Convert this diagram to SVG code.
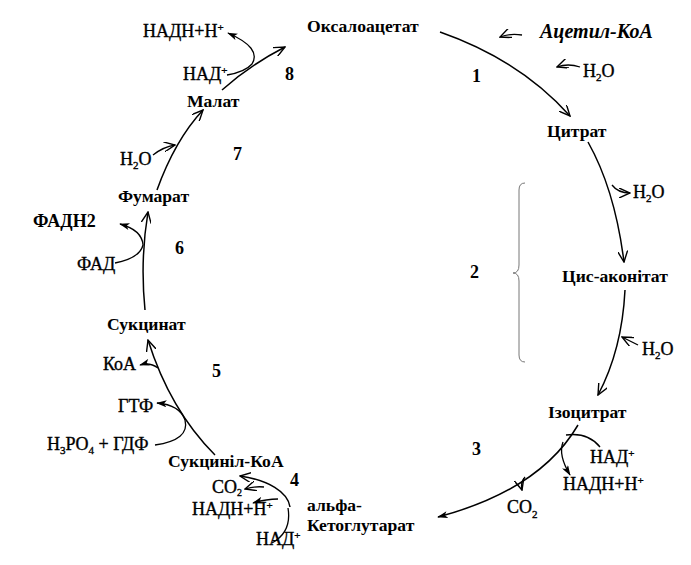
<svg xmlns="http://www.w3.org/2000/svg" width="691" height="565" viewBox="0 0 691 565">
<style>
.b{font-family:"Liberation Serif",serif;font-weight:bold;font-size:17.6px;fill:#000}
.r{font-family:"Liberation Serif",serif;font-size:18px;fill:#000;stroke:#000;stroke-width:0.35}
.n{font-family:"Liberation Serif",serif;font-weight:bold;font-size:18px;fill:#000}
.ln{fill:none;stroke:#000;stroke-width:1.5}
.sm{fill:none;stroke:#000;stroke-width:1.3}
</style>
<defs>
<marker id="a" viewBox="0 0 12 10" refX="11" refY="5" markerWidth="12" markerHeight="10" markerUnits="userSpaceOnUse" orient="auto">
<path d="M0,0 L11,5 L0,10" fill="none" stroke="#000" stroke-width="1.4"/>
</marker>
<marker id="f" viewBox="0 0 12 8" refX="11" refY="4" markerWidth="11" markerHeight="7" markerUnits="userSpaceOnUse" orient="auto">
<path d="M0,0 L12,4 L0,8 L3,4 Z" fill="#000"/>
</marker>
</defs>
<rect width="691" height="565" fill="#fff"/>
<g id="connectors">
<path class="ln" d="M440,32 Q520,60 570,116" marker-end="url(#a)"/>
<path class="ln" d="M588,142 Q615,190 624,262" marker-end="url(#a)"/>
<path class="ln" d="M625,290 Q622,350 598,395" marker-end="url(#a)"/>
<path class="ln" d="M578,425 Q540,490 438,517" marker-end="url(#f)"/>
<path class="ln" d="M290,507 C288,492 268,480 240,476" marker-end="url(#a)"/>
<path class="ln" d="M215,455 Q170,410 148,340" marker-end="url(#a)"/>
<path class="ln" d="M145,310 Q140,260 148,212" marker-end="url(#a)"/>
<path class="ln" d="M157,190 Q175,140 203,110" marker-end="url(#a)"/>
<path class="ln" d="M222,90 Q250,65 285,47" marker-end="url(#a)"/>
<path class="sm" d="M522,35 Q510,33 500,37" marker-end="url(#a)"/>
<path class="sm" d="M580,67 Q568,63 557,67" marker-end="url(#a)"/>
<path class="sm" d="M612,185 Q618,193 630,193" marker-end="url(#a)"/>
<path class="sm" d="M638,345 Q628,340 622,337" marker-end="url(#a)"/>
<path class="sm" d="M600,447 Q588,432 566,435"/>
<path class="sm" d="M563,442 Q558,455 570,475" marker-end="url(#f)"/>
<path class="sm" d="M525,477 Q520,483 522,490" marker-end="url(#a)"/>
<path class="sm" d="M264,487 Q255,486 245,489" marker-end="url(#a)"/>
<path class="sm" d="M278,499 Q266,499 253,503" marker-end="url(#f)"/>
<path class="sm" d="M272,543 Q292,532 288,508"/>
<path class="sm" d="M158,368 Q150,362 140,365" marker-end="url(#f)"/>
<path class="sm" d="M155,445 Q190,440 185,420 Q180,405 157,403" marker-end="url(#f)"/>
<path class="sm" d="M115,263 Q140,258 143,245 Q142,230 120,224" marker-end="url(#f)"/>
<path class="sm" d="M153,155 Q163,147 175,145" marker-end="url(#a)"/>
<path class="sm" d="M227,75 Q245,72 252,64 Q262,48 228,33" marker-end="url(#f)"/>
<path d="M525,183 Q519,183 519,190 L519,265 Q519,273 513,273 Q519,273 519,281 L519,355 Q519,362 525,362" fill="none" stroke="#777" stroke-width="1"/>
</g>
<g id="oxaloacetate"><text class="b" x="307" y="32">Оксалоацетат</text></g>
<g id="acetyl-coa"><text x="540" y="38" style="font-family:'Liberation Serif',serif;font-weight:bold;font-style:italic;font-size:20px">Ацетил-КоА</text></g>
<g id="h2o-1"><text class="r" x="583" y="77">H<tspan font-size="11" dy="4">2</tspan><tspan dy="-4">O</tspan></text></g>
<g id="citrate"><text class="b" x="547" y="137">Цитрат</text></g>
<g id="h2o-2"><text class="r" x="633" y="198">H<tspan font-size="11" dy="4">2</tspan><tspan dy="-4">O</tspan></text></g>
<g id="cis-aconitate"><text class="b" x="562" y="282">Цис-аконітат</text></g>
<g id="h2o-3"><text class="r" x="642" y="355">H<tspan font-size="11" dy="4">2</tspan><tspan dy="-4">O</tspan></text></g>
<g id="isocitrate"><text class="b" x="548" y="418">Ізоцитрат</text></g>
<g id="nad-3"><text class="r" x="590" y="463">НАД<tspan font-size="11" dy="-6">+</tspan></text></g>
<g id="nadh-3"><text class="r" x="563" y="490">НАДН+Н<tspan font-size="11" dy="-6">+</tspan></text></g>
<g id="co2-3"><text class="r" x="507" y="513">CO<tspan font-size="11" dy="5">2</tspan></text></g>
<g id="alpha-kg"><text class="b" x="307" y="511">альфа-</text><text class="b" x="307" y="531">Кетоглутарат</text></g>
<g id="co2-4"><text class="r" x="212" y="493" font-size="17">CO<tspan font-size="10" dy="3">2</tspan></text></g>
<g id="nadh-4"><text class="r" x="192" y="515">НАДН+Н<tspan font-size="11" dy="-6">+</tspan></text></g>
<g id="nad-4"><text class="r" x="256" y="545">НАД<tspan font-size="11" dy="-6">+</tspan></text></g>
<g id="succinyl-coa"><text class="b" x="168" y="467">Сукциніл-КоА</text></g>
<g id="gdp"><text class="r" x="47" y="450">H<tspan font-size="11" dy="4">3</tspan><tspan dy="-4">PO</tspan><tspan font-size="11" dy="4">4</tspan><tspan dy="-4"> + ГДФ</tspan></text></g>
<g id="gtp"><text class="r" x="118" y="412">ГТФ</text></g>
<g id="coa"><text class="r" x="103" y="370">КоА</text></g>
<g id="succinate"><text class="b" x="107" y="330">Сукцинат</text></g>
<g id="fad"><text class="r" x="77" y="270">ФАД</text></g>
<g id="fadh2"><text class="n" x="33" y="227" font-size="19">ФАДН2</text></g>
<g id="fumarate"><text class="b" x="118" y="202">Фумарат</text></g>
<g id="h2o-7"><text class="r" x="120" y="165">H<tspan font-size="11" dy="4">2</tspan><tspan dy="-4">O</tspan></text></g>
<g id="malate"><text class="b" x="187" y="107">Малат</text></g>
<g id="nad-8"><text class="r" x="183" y="80">НАД<tspan font-size="11" dy="-6">+</tspan></text></g>
<g id="nadh-8"><text class="r" x="143" y="37">НАДН+Н<tspan font-size="11" dy="-6">+</tspan></text></g>
<g id="steps">
<text class="n" x="285" y="80">8</text>
<text class="n" x="472" y="82">1</text>
<text class="n" x="470" y="278">2</text>
<text class="n" x="472" y="455">3</text>
<text class="n" x="290" y="486">4</text>
<text class="n" x="212" y="377">5</text>
<text class="n" x="175" y="254">6</text>
<text class="n" x="233" y="160">7</text>
</g>
</svg>
